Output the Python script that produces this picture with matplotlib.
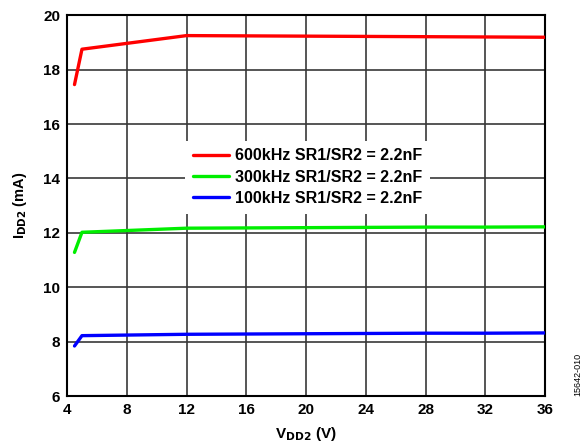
import matplotlib
matplotlib.use("Agg")
import matplotlib.pyplot as plt

plt.rcParams["font.family"] = ["Liberation Sans", "DejaVu Sans"]
plt.rcParams["font.weight"] = "bold"
plt.rcParams["mathtext.default"] = "bf"

# data
V = [4.5, 5.0, 12, 16, 20, 24, 28, 32, 36]
I_600 = [17.45, 18.75, 19.25, 19.24, 19.23, 19.22, 19.21, 19.2, 19.19]
I_300 = [11.28, 12.02, 12.17, 12.18, 12.19, 12.2, 12.21, 12.21, 12.22]
I_100 = [7.84, 8.22, 8.27, 8.28, 8.29, 8.3, 8.31, 8.31, 8.32]

LABELS = ["600kHz SR1/SR2 = 2.2nF", "300kHz SR1/SR2 = 2.2nF", "100kHz SR1/SR2 = 2.2nF"]
COLORS = ["#FF0000", "#00EE00", "#0000FF"]
XTICKS = [4, 8, 12, 16, 20, 24, 28, 32, 36]
YTICKS = [6, 8, 10, 12, 14, 16, 18, 20]

fig = plt.figure(figsize=(5.88, 4.47), dpi=100)
ax = fig.add_axes([0.114, 0.114, 0.813, 0.852])

for ys, lab, col in zip([I_600, I_300, I_100], LABELS, COLORS):
    ax.plot(V, ys, color=col, lw=2.4, label=lab, solid_capstyle="round", zorder=3)

ax.set_xlim(4, 36)
ax.set_ylim(6, 20)
ax.set_xticks(XTICKS)
ax.set_yticks(YTICKS)
ax.grid(True, color="#383838", lw=1.2)
ax.tick_params(length=0, labelsize=11, pad=5)
for lab in ax.get_xticklabels() + ax.get_yticklabels():
    lab.set_fontweight("bold")
for sp in ax.spines.values():
    sp.set_linewidth(1.5)
    sp.set_color("black")

ax.set_xlabel("V$_{\\mathbf{DD2}}$ (V)", fontsize=11, fontweight="bold", labelpad=6)
ax.set_ylabel("I$_{\\mathbf{DD2}}$ (mA)", fontsize=10.5, fontweight="bold", labelpad=10)

leg = ax.legend(loc="center", bbox_to_anchor=(0.503, 0.575), frameon=True, fancybox=False,
                edgecolor="none", facecolor="white", framealpha=1, fontsize=11.5,
                handlelength=2.3, handletextpad=0.35, labelspacing=0.38, borderpad=0.5)
leg.set_zorder(4)
for t in leg.get_texts():
    t.set_fontweight("bold")

fig.text(0.983, 0.114, "15642-010", rotation=90, fontsize=6.5, fontweight="normal",
         ha="center", va="bottom")

fig.savefig("out.png", dpi=100, facecolor="white")
